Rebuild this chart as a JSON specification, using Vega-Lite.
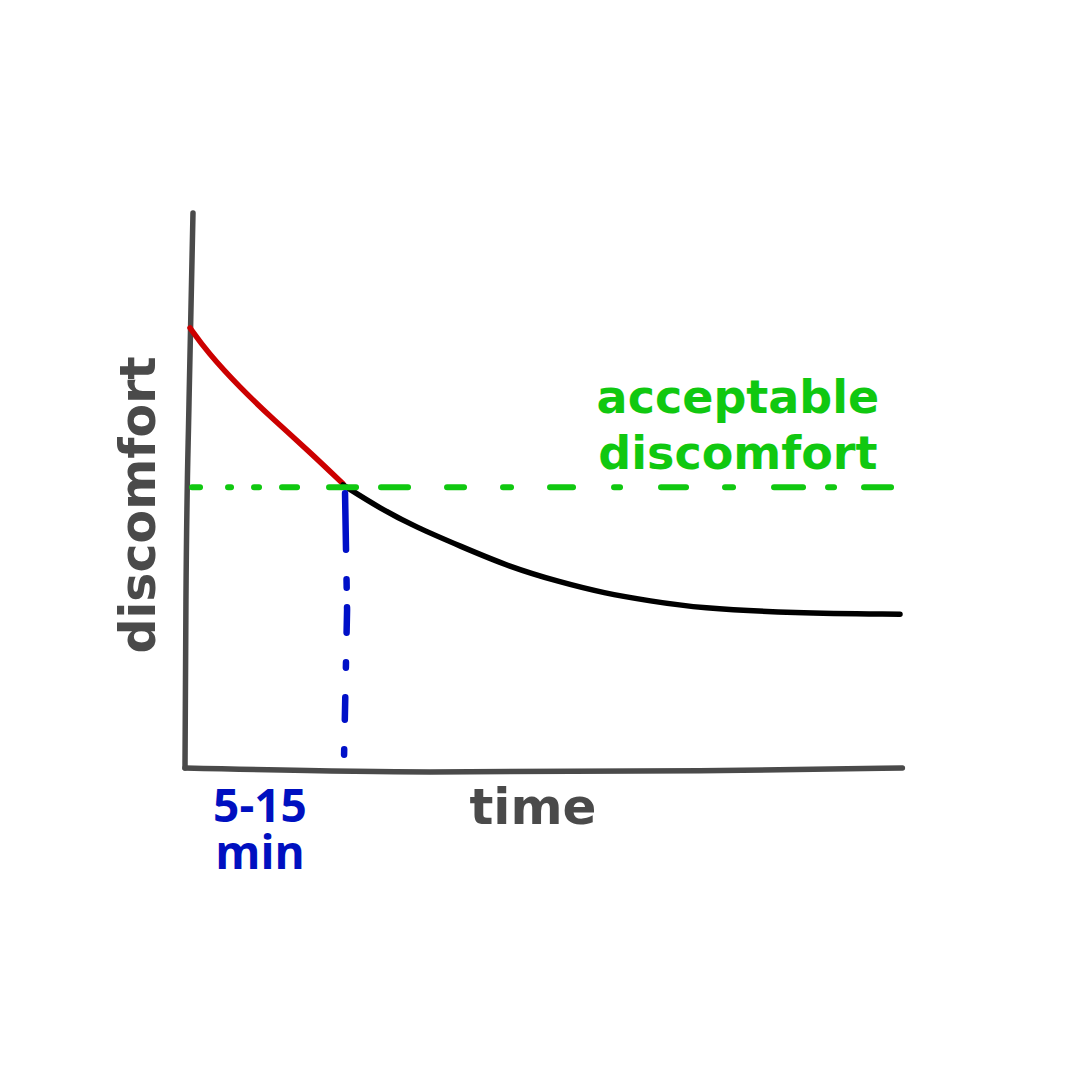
{
  "$schema": "https://vega.github.io/schema/vega-lite/v6.json",
  "width": 715,
  "height": 555,
  "autosize": {"type": "none"},
  "padding": {"left": 185, "top": 213, "right": 180, "bottom": 312},
  "background": "white",
  "config": {"view": {"stroke": null}},
  "datasets": {
    "axes": [
      {"part": "y-axis", "t": 0.67, "d": 10.0},
      {"part": "y-axis", "t": 0.34, "d": 6.63},
      {"part": "y-axis", "t": 0.08, "d": 3.03},
      {"part": "y-axis", "t": 0.0, "d": 0.0},
      {"part": "x-axis", "t": 0.0, "d": 0.0},
      {"part": "x-axis", "t": 20.56, "d": -0.07},
      {"part": "x-axis", "t": 43.2, "d": -0.05},
      {"part": "x-axis", "t": 60.2, "d": 0.0}
    ],
    "curve": [
      {"phase": "above", "t": 0.42, "d": 7.93},
      {"phase": "above", "t": 1.85, "d": 7.5},
      {"phase": "above", "t": 4.62, "d": 6.85},
      {"phase": "above", "t": 7.47, "d": 6.27},
      {"phase": "above", "t": 10.49, "d": 5.69},
      {"phase": "above", "t": 13.26, "d": 5.12},
      {"phase": "below", "t": 13.26, "d": 5.1},
      {"phase": "below", "t": 16.36, "d": 4.68},
      {"phase": "below", "t": 19.38, "d": 4.34},
      {"phase": "below", "t": 23.08, "d": 4.0},
      {"phase": "below", "t": 27.27, "d": 3.62},
      {"phase": "below", "t": 31.47, "d": 3.35},
      {"phase": "below", "t": 35.16, "d": 3.15},
      {"phase": "below", "t": 39.02, "d": 3.01},
      {"phase": "below", "t": 43.13, "d": 2.88},
      {"phase": "below", "t": 51.02, "d": 2.79},
      {"phase": "below", "t": 60.0, "d": 2.77}
    ],
    "threshold": [
      {"t": 0.59, "d": 5.06},
      {"t": 59.25, "d": 5.06}
    ],
    "crossing": [
      {"t": 13.43, "d": 4.95},
      {"t": 13.6, "d": 2.85},
      {"t": 13.35, "d": 0.24}
    ],
    "labels": [
      {"kind": "y-title", "label": "discomfort", "t": -2.52, "d": 4.74},
      {"kind": "x-title", "label": "time", "t": 29.2, "d": -1.0},
      {"kind": "crossing", "label": ["5-15", "min"], "t": 6.29, "d": -0.97},
      {"kind": "threshold", "label": ["acceptable", "discomfort"], "t": 46.4, "d": 6.4}
    ]
  },
  "encoding": {
    "x": {"field": "t", "type": "quantitative", "scale": {"domain": [0, 60]}, "axis": null},
    "y": {"field": "d", "type": "quantitative", "scale": {"domain": [0, 10]}, "axis": null}
  },
  "layer": [
    {
      "data": {"name": "axes"},
      "mark": {"type": "line", "color": "#4a4a4a", "strokeWidth": 5.5, "strokeCap": "round", "strokeJoin": "round", "interpolate": "monotone", "clip": false},
      "encoding": {"detail": {"field": "part"}}
    },
    {
      "data": {"name": "curve"},
      "mark": {"type": "line", "strokeWidth": 5.5, "strokeCap": "round", "interpolate": "basis", "clip": false},
      "encoding": {
        "color": {"field": "phase", "type": "nominal", "scale": {"domain": ["above", "below"], "range": ["#cc0000", "#000000"]}, "legend": null}
      }
    },
    {
      "data": {"name": "threshold"},
      "mark": {"type": "line", "color": "#10c810", "strokeWidth": 6, "strokeCap": "round", "clip": false,
        "strokeDash": [8, 28, 3, 23, 5, 23, 15, 32, 27, 25, 27, 39, 17, 39, 8, 39, 23, 41, 6, 41, 25, 39, 8, 41, 29, 25, 6, 30, 34]},
      "encoding": {}
    },
    {
      "data": {"name": "crossing"},
      "mark": {"type": "line", "color": "#0010c8", "strokeWidth": 6.5, "strokeCap": "round", "clip": false,
        "strokeDash": [56.5, 29.5, 8.5, 19.5, 25.5, 29.5, 5.5, 29.5, 22.5, 29.5, 5.5]},
      "encoding": {"order": {"field": "d", "sort": "descending"}}
    },
    {
      "data": {"name": "labels"},
      "transform": [{"filter": "datum.kind == 'y-title'"}],
      "mark": {"type": "text", "font": "DejaVu Sans", "fontWeight": "bold", "fontSize": 49, "angle": 270, "align": "center", "baseline": "alphabetic", "color": "#4a4a4a", "clip": false},
      "encoding": {"text": {"field": "label"}}
    },
    {
      "data": {"name": "labels"},
      "transform": [{"filter": "datum.kind == 'x-title'"}],
      "mark": {"type": "text", "font": "DejaVu Sans", "fontWeight": "bold", "fontSize": 50, "align": "center", "baseline": "alphabetic", "color": "#4a4a4a", "clip": false},
      "encoding": {"text": {"field": "label"}}
    },
    {
      "data": {"name": "labels"},
      "transform": [{"filter": "datum.kind == 'crossing'"}],
      "mark": {"type": "text", "font": "Open Sans", "fontWeight": "bold", "fontSize": 46, "lineHeight": 47, "align": "center", "baseline": "alphabetic", "color": "#0010c0", "clip": false},
      "encoding": {"text": {"field": "label"}}
    },
    {
      "data": {"name": "labels"},
      "transform": [{"filter": "datum.kind == 'threshold'"}],
      "mark": {"type": "text", "font": "DejaVu Sans", "fontWeight": "bold", "fontSize": 46, "lineHeight": 56, "align": "center", "baseline": "alphabetic", "color": "#10c810", "clip": false},
      "encoding": {"text": {"field": "label"}}
    }
  ]
}
